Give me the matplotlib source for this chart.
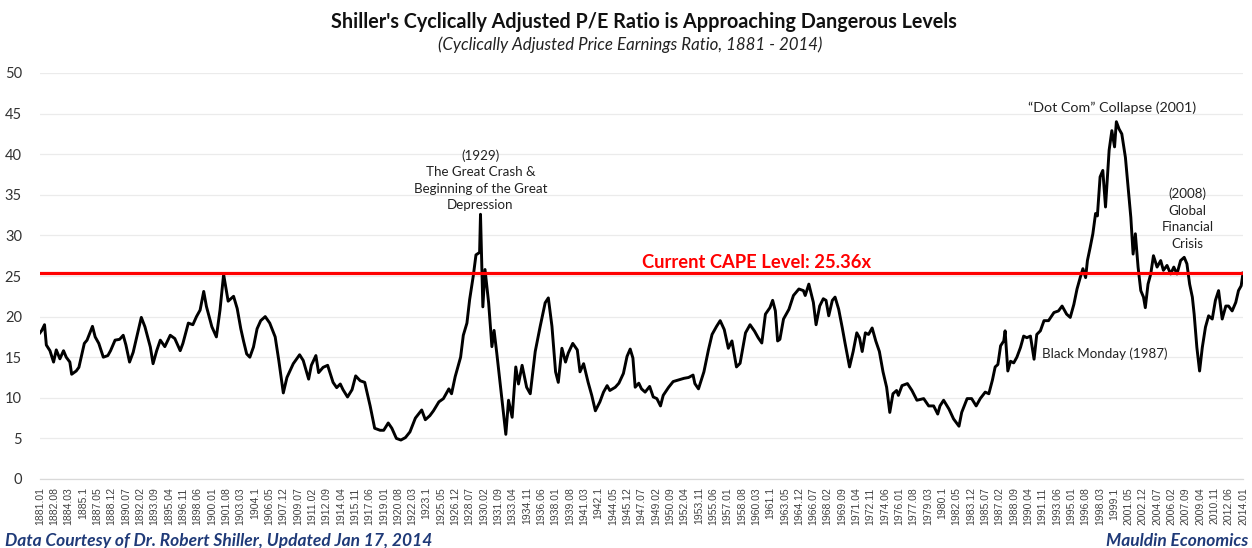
import matplotlib
matplotlib.use("Agg")
import matplotlib.pyplot as plt

# CAPE readings, sampled off the chart (decimal year, ratio)
sample_years = [
    1881.0, 1881.2, 1881.5, 1881.7, 1882.1, 1882.5, 1882.8, 1883.2, 1883.6, 1883.9,
    1884.3, 1884.5, 1885.0, 1885.3, 1885.9, 1886.2, 1886.8, 1887.1, 1887.5, 1888.0,
    1888.5, 1888.8, 1889.3, 1889.8, 1890.2, 1890.5, 1890.9, 1891.3, 1891.7, 1892.2,
    1892.6, 1893.2, 1893.5, 1893.9, 1894.3, 1894.8, 1895.4, 1895.9, 1896.5, 1896.8,
    1897.4, 1897.9, 1898.3, 1898.7, 1899.1, 1899.4, 1900.0, 1900.5, 1900.9, 1901.3,
    1901.8, 1902.4, 1902.8, 1903.2, 1903.5, 1903.85, 1904.2, 1904.6, 1905.0, 1905.4,
    1905.9, 1906.4, 1907.0, 1907.4, 1907.9, 1908.3, 1909.0, 1909.7, 1910.1, 1910.7,
    1911.0, 1911.5, 1911.8, 1912.3, 1912.8, 1913.4, 1913.8, 1914.2, 1914.5, 1915.0,
    1915.5, 1915.9, 1916.4, 1916.9, 1917.5, 1918.0, 1918.6, 1919.0, 1919.5, 1919.9,
    1920.4, 1920.9, 1921.4, 1921.9, 1922.5, 1923.2, 1923.6, 1924.1, 1924.5, 1925.1,
    1925.6, 1926.2, 1926.5, 1926.9, 1927.5, 1927.8, 1928.2, 1928.5, 1928.9, 1929.2,
    1929.6, 1929.7, 1929.96, 1930.2, 1930.6, 1930.96, 1931.2, 1931.5, 1932.1, 1932.5,
    1932.8, 1933.2, 1933.6, 1933.9, 1934.3, 1934.8, 1935.2, 1935.75, 1936.3, 1936.85,
    1937.2, 1937.6, 1938.0, 1938.3, 1938.7, 1939.1, 1939.4, 1939.9, 1940.4, 1940.7,
    1941.1, 1941.6, 1942.0, 1942.4, 1942.9, 1943.3, 1943.7, 1944.0, 1944.6, 1945.0,
    1945.5, 1945.9, 1946.25, 1946.55, 1946.8, 1947.2, 1947.5, 1947.9, 1948.4, 1948.8,
    1949.2, 1949.6, 1949.9, 1950.5, 1951.0, 1951.6, 1952.2, 1952.7, 1953.2, 1953.4,
    1953.8, 1954.4, 1954.9, 1955.3, 1955.8, 1956.2, 1956.65, 1957.1, 1957.5, 1958.0,
    1958.4, 1959.0, 1959.5, 1960.0, 1960.4, 1960.8, 1961.2, 1961.7, 1962.0, 1962.3,
    1962.55, 1962.8, 1963.2, 1963.8, 1964.3, 1964.9, 1965.4, 1965.6, 1966.0, 1966.5,
    1966.8, 1967.2, 1967.6, 1967.9, 1968.2, 1968.6, 1968.9, 1969.3, 1969.7, 1970.0,
    1970.5, 1970.9, 1971.3, 1971.6, 1971.9, 1972.25, 1972.6, 1973.0, 1973.4, 1973.8,
    1974.2, 1974.6, 1974.95, 1975.3, 1975.7, 1975.9, 1976.3, 1976.9, 1977.4, 1977.95,
    1978.7, 1979.25, 1979.8, 1980.25, 1980.5, 1980.9, 1981.5, 1982.0, 1982.6, 1982.9,
    1983.5, 1984.0, 1984.5, 1984.95, 1985.5, 1985.9, 1986.3, 1986.6, 1986.9, 1987.2,
    1987.55, 1987.7, 1988.0, 1988.3, 1988.65, 1989.0, 1989.4, 1989.75, 1990.1, 1990.5,
    1990.9, 1991.2, 1991.6, 1992.0, 1992.5, 1993.1, 1993.6, 1994.0, 1994.5, 1994.9,
    1995.3, 1995.65, 1996.0, 1996.3, 1996.6, 1996.8, 1997.1, 1997.4, 1997.7, 1997.9,
    1998.2, 1998.5, 1998.8, 1999.2, 1999.5, 1999.8, 2000.0, 2000.3, 2000.6, 2001.0,
    2001.3, 2001.6, 2001.85, 2002.1, 2002.4, 2002.7, 2003.0, 2003.2, 2003.5, 2003.8,
    2004.1, 2004.5, 2004.9, 2005.2, 2005.6, 2006.0, 2006.35, 2006.7, 2007.1, 2007.5,
    2007.8, 2008.1, 2008.4, 2008.6, 2008.9, 2009.2, 2009.5, 2009.85, 2010.2, 2010.6,
    2010.95, 2011.3, 2011.7, 2012.1, 2012.4, 2012.8, 2013.2, 2013.5, 2013.8, 2014.0,
]
cape_values = [
    18.0, 18.3, 19.0, 16.5, 15.8, 14.4, 15.9, 14.8, 15.8, 15.0,
    14.4, 12.9, 13.3, 13.75, 16.7, 17.1, 18.8, 17.5, 16.7, 15.0,
    15.2, 15.8, 17.1, 17.2, 17.7, 16.5, 14.4, 15.6, 17.5, 19.9,
    18.75, 16.25, 14.2, 15.8, 17.1, 16.3, 17.7, 17.3, 15.8, 16.7,
    19.2, 19.0, 20.0, 20.8, 23.1, 21.25, 18.75, 17.5, 20.8, 25.2,
    21.9, 22.5, 21.0, 18.5, 17.0, 15.4, 15.0, 16.25, 18.5, 19.5,
    20.0, 19.2, 17.5, 14.6, 10.6, 12.5, 14.2, 15.3, 14.6, 12.3,
    14.0, 15.2, 13.1, 13.75, 14.0, 11.9, 11.25, 11.7, 11.0, 10.1,
    11.0, 12.7, 12.1, 11.9, 9.0, 6.25, 6.0, 6.0, 6.9, 6.25,
    5.0, 4.8, 5.1, 5.8, 7.5, 8.5, 7.3, 7.8, 8.4, 9.5,
    9.9, 11.1, 10.5, 12.6, 15.0, 17.7, 19.2, 22.1, 25.0, 27.6,
    27.9, 32.6, 21.2, 25.8, 21.7, 16.3, 18.3, 15.5, 9.5, 5.5,
    9.7, 7.6, 13.8, 11.7, 14.0, 11.3, 10.5, 15.7, 18.8, 21.7,
    22.3, 18.8, 13.2, 11.9, 16.1, 14.4, 15.5, 16.7, 15.9, 13.2,
    14.2, 11.9, 10.3, 8.4, 9.5, 10.7, 11.5, 10.9, 11.3, 11.8,
    13.0, 15.1, 16.0, 14.9, 11.3, 11.8, 11.1, 10.7, 11.4, 10.1,
    9.9, 9.0, 10.3, 11.3, 12.0, 12.2, 12.4, 12.5, 12.8, 11.75,
    11.1, 13.2, 15.9, 17.8, 18.8, 19.5, 18.4, 16.1, 17.0, 13.8,
    14.25, 18.0, 19.0, 18.2, 17.4, 16.75, 20.3, 21.1, 22.0, 20.7,
    17.0, 17.2, 19.7, 20.9, 22.6, 23.4, 23.2, 22.6, 24.0, 21.75,
    19.0, 21.3, 22.2, 22.0, 20.1, 22.0, 22.4, 20.9, 18.6, 16.75,
    13.8, 15.7, 18.0, 17.4, 15.7, 18.0, 17.8, 18.6, 17.0, 15.7,
    13.2, 11.3, 8.2, 10.5, 10.9, 10.3, 11.5, 11.75, 10.9, 9.7,
    9.9, 9.0, 9.0, 8.0, 9.0, 9.7, 8.6, 7.4, 6.5, 8.2,
    9.9, 9.9, 9.0, 9.9, 10.7, 10.5, 12.2, 13.8, 14.1, 16.4,
    17.0, 18.25, 13.3, 14.5, 14.3, 15.0, 16.2, 17.6, 17.4, 17.6,
    14.75, 17.8, 18.25, 19.5, 19.5, 20.5, 20.7, 21.3, 20.3, 19.9,
    21.5, 23.4, 24.8, 25.9, 24.8, 26.9, 28.5, 30.2, 32.7, 32.4,
    37.2, 38.0, 33.5, 40.5, 42.9, 40.9, 44.0, 43.1, 42.5, 39.6,
    35.9, 32.2, 27.7, 30.2, 26.1, 23.2, 22.4, 21.1, 24.0, 25.25,
    27.5, 26.1, 26.9, 25.7, 26.3, 25.25, 26.1, 25.25, 26.9, 27.3,
    26.5, 24.0, 22.4, 20.3, 16.2, 13.3, 16.2, 18.7, 20.1, 19.7,
    22.0, 23.2, 19.7, 21.3, 21.3, 20.7, 21.75, 23.2, 23.8, 25.36,
]
current_cape = 25.36

first_year = 1881
n_months = 1597          # 1881.01 .. 2014.01
label_step = 19


def month_label(i):
    y = first_year + i // 12
    m = i % 12 + 1
    # excel general format drops the trailing zero of .10
    return f"{y}.1" if m == 10 else f"{y}.{m:02d}"


def mx(year):
    return (year - first_year) * 12


tick_idx = list(range(0, n_months, label_step))
tick_labels = [month_label(i) for i in tick_idx]
x_months = [mx(yr) for yr in sample_years]

plt.rcParams['font.family'] = ['Lato', 'DejaVu Sans']
navy = '#1F3A78'
txt = '#222222'

fig = plt.figure(figsize=(12.52, 5.48), dpi=100)
ax = fig.add_axes([40 / 1252, 69 / 548, 1203 / 1252, 406 / 548])

ax.plot(x_months, cape_values, color='black', lw=2.1, solid_joinstyle='round', zorder=3)
ax.axhline(current_cape, color='#FF0000', lw=2.3, zorder=4)

ax.set_xlim(0, n_months - 1)
ax.set_ylim(0, 50)
ax.set_yticks(range(0, 51, 5))
ax.set_xticks(tick_idx)
ax.set_xticklabels(tick_labels, rotation=90, fontsize=7.5, color='#404040',
                   family='Liberation Sans')
ax.tick_params(axis='y', length=0, pad=13, labelsize=10.5, labelcolor='#333333')
ax.tick_params(axis='x', length=0, pad=6)
ax.yaxis.grid(True, color='#EBEBEB', lw=0.9)
ax.set_axisbelow(True)
for s in ['top', 'right', 'left']:
    ax.spines[s].set_visible(False)
ax.spines['bottom'].set_color('#D9D9D9')
ax.spines['bottom'].set_linewidth(0.9)

fig.text(0.514, 1 - 22 / 548, "Shiller's Cyclically Adjusted P/E Ratio is Approaching Dangerous Levels",
         ha='center', va='center', fontsize=14.2, fontweight='bold', color='#111111')
fig.text(0.503, 1 - 45 / 548, "(Cyclically Adjusted Price Earnings Ratio, 1881 - 2014)",
         ha='center', va='center', fontsize=12.2, style='italic', color=txt)

ax.annotate("(1929)\nThe Great Crash &\nBeginning of the Great\nDepression",
            xy=(mx(1929.7), 40.6), ha='center', va='top',
            fontsize=9.6, color=txt, linespacing=1.45)
ax.annotate("\u201cDot Com\u201d Collapse (2001)", xy=(mx(1999.5), 45.7),
            ha='center', va='center', fontsize=10.3, color=txt)
ax.annotate("(2008)\nGlobal\nFinancial\nCrisis", xy=(mx(2007.9), 35.9),
            ha='center', va='top', fontsize=9.6, color=txt, linespacing=1.45)
ax.annotate("Black Monday (1987)", xy=(mx(1991.8), 15.4),
            ha='left', va='center', fontsize=9.6, color=txt)
ax.annotate("Current CAPE Level: 25.36x", xy=(mx(1960.2), 26.7),
            ha='center', va='center', fontsize=13.2, fontweight='bold', color='#FF0000')

fig.text(5 / 1252, 1 - 541 / 548, "Data Courtesy of Dr. Robert Shiller, Updated Jan 17, 2014",
         ha='left', va='center', fontsize=12.5, fontweight='bold', style='italic', color=navy)
fig.text(1248 / 1252, 1 - 541 / 548, "Mauldin Economics",
         ha='right', va='center', fontsize=12.5, fontweight='bold', style='italic', color=navy)

fig.savefig('out.png', dpi=100)
